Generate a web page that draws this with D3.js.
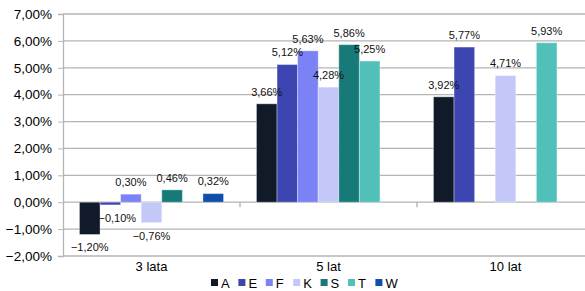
<!DOCTYPE html>
<html>
<head>
<meta charset="utf-8">
<script src="https://cdn.jsdelivr.net/npm/d3@7"></script>
<style>
  body { margin: 0; background: #fff; }
  svg { display: block; font-family: "Liberation Sans", Arial, sans-serif; }
</style>
</head>
<body>
<svg width="585" height="291"></svg>
<script>
// data
const categories = ['3 lata', '5 lat', '10 lat'];
const seriesNames = ['A', 'E', 'F', 'K', 'S', 'T', 'W'];
const valuesA = [-1.20, 3.66, 3.92];
const valuesE = [-0.10, 5.12, 5.77];
const valuesF = [0.30, 5.63, null];
const valuesK = [-0.76, 4.28, 4.71];
const valuesS = [0.46, 5.86, null];
const valuesT = [null, 5.25, 5.93];
const valuesW = [0.32, null, null];
const yTicks = [-2, -1, 0, 1, 2, 3, 4, 5, 6, 7];

const colors = {
    A: '#111a28', E: '#3d45b0', F: '#7a82f6', K: '#c4c8f8',
    S: '#187a78', T: '#50c0b8', W: '#0f4fa8'
};
const seriesValues = { A: valuesA, E: valuesE, F: valuesF, K: valuesK, S: valuesS, T: valuesT, W: valuesW };

const svg = d3.select('svg');
const plotLeft = 63, plotTop = 14, plotBottom = 256;
const catWidth = 177;

const x = d3.scaleBand()
    .domain(categories)
    .range([plotLeft, plotLeft + catWidth * categories.length]);
const xInner = d3.scaleBand()
    .domain(seriesNames)
    .range([0, x.bandwidth()])
    .paddingInner(0)
    .paddingOuter(0.8);
const y = d3.scaleLinear().domain([-2, 7]).range([plotBottom, plotTop]);

const fmt = v => d3.format('.2f')(v).replace('.', ',') + '%';

// gridlines
svg.append('g')
    .selectAll('line')
    .data(yTicks)
    .join('line')
    .attr('x1', plotLeft).attr('x2', 585)
    .attr('y1', d => y(d)).attr('y2', d => y(d))
    .attr('stroke', '#b4b4b4')
    .attr('stroke-width', 1.3);

// y axis
const yAxis = svg.append('g')
    .attr('transform', `translate(${plotLeft},0)`)
    .call(d3.axisLeft(y).tickValues(yTicks).tickSize(5).tickPadding(6).tickFormat(d => fmt(d)));
yAxis.select('.domain').attr('stroke', '#b4b4b4').attr('stroke-width', 1.3);
yAxis.selectAll('.tick line').attr('stroke', '#b4b4b4');
yAxis.selectAll('text').attr('font-size', 13.5).attr('fill', '#000')
    .attr('font-family', '"Liberation Sans", Arial, sans-serif');

// category boundary ticks on the zero line
svg.append('g')
    .selectAll('line')
    .data(categories.slice(1))
    .join('line')
    .attr('x1', d => x(d)).attr('x2', d => x(d))
    .attr('y1', y(0)).attr('y2', y(0) + 5)
    .attr('stroke', '#999')
    .attr('stroke-width', 1);

// category labels
svg.append('g')
    .selectAll('text')
    .data(categories)
    .join('text')
    .attr('x', d => x(d) + x.bandwidth() / 2)
    .attr('y', 271)
    .attr('text-anchor', 'middle')
    .attr('font-size', 13)
    .text(d => d);

// bars
const barData = [];
categories.forEach((c, i) => {
    seriesNames.forEach(s => {
        const v = seriesValues[s][i];
        if (v !== null) barData.push({ cat: c, series: s, value: v });
    });
});

svg.append('g')
    .selectAll('rect')
    .data(barData)
    .join('rect')
    .attr('x', d => x(d.cat) + xInner(d.series))
    .attr('y', d => y(Math.max(0, d.value)))
    .attr('width', xInner.bandwidth())
    .attr('height', d => Math.abs(y(d.value) - y(0)))
    .attr('fill', d => colors[d.series])
    .attr('stroke', '#fff')
    .attr('stroke-opacity', 0.35)
    .attr('stroke-width', 1);

// labels (one nudged sideways, as in the original)
const labelDx = { '3 lata|E': 7 };
svg.append('g')
    .selectAll('text')
    .data(barData)
    .join('text')
    .attr('x', d => x(d.cat) + xInner(d.series) + xInner.bandwidth() / 2 + (labelDx[d.cat + '|' + d.series] || 0))
    .attr('y', d => d.value >= 0 ? y(d.value) - 12 : y(d.value) + 13)
    .attr('dy', '0.35em')
    .attr('text-anchor', 'middle')
    .attr('font-size', 11)
    .attr('fill', '#111')
    .text(d => fmt(d.value));

// legend
const legend = svg.append('g')
    .selectAll('g')
    .data(seriesNames)
    .join('g')
    .attr('transform', (d, i) => `translate(${211 + i * 27.4},279)`);
legend.append('rect')
    .attr('width', 7).attr('height', 7)
    .attr('fill', d => colors[d]);
legend.append('text')
    .attr('x', 10).attr('y', 8.5)
    .attr('font-size', 13)
    .text(d => d);
</script>
</body>
</html>
